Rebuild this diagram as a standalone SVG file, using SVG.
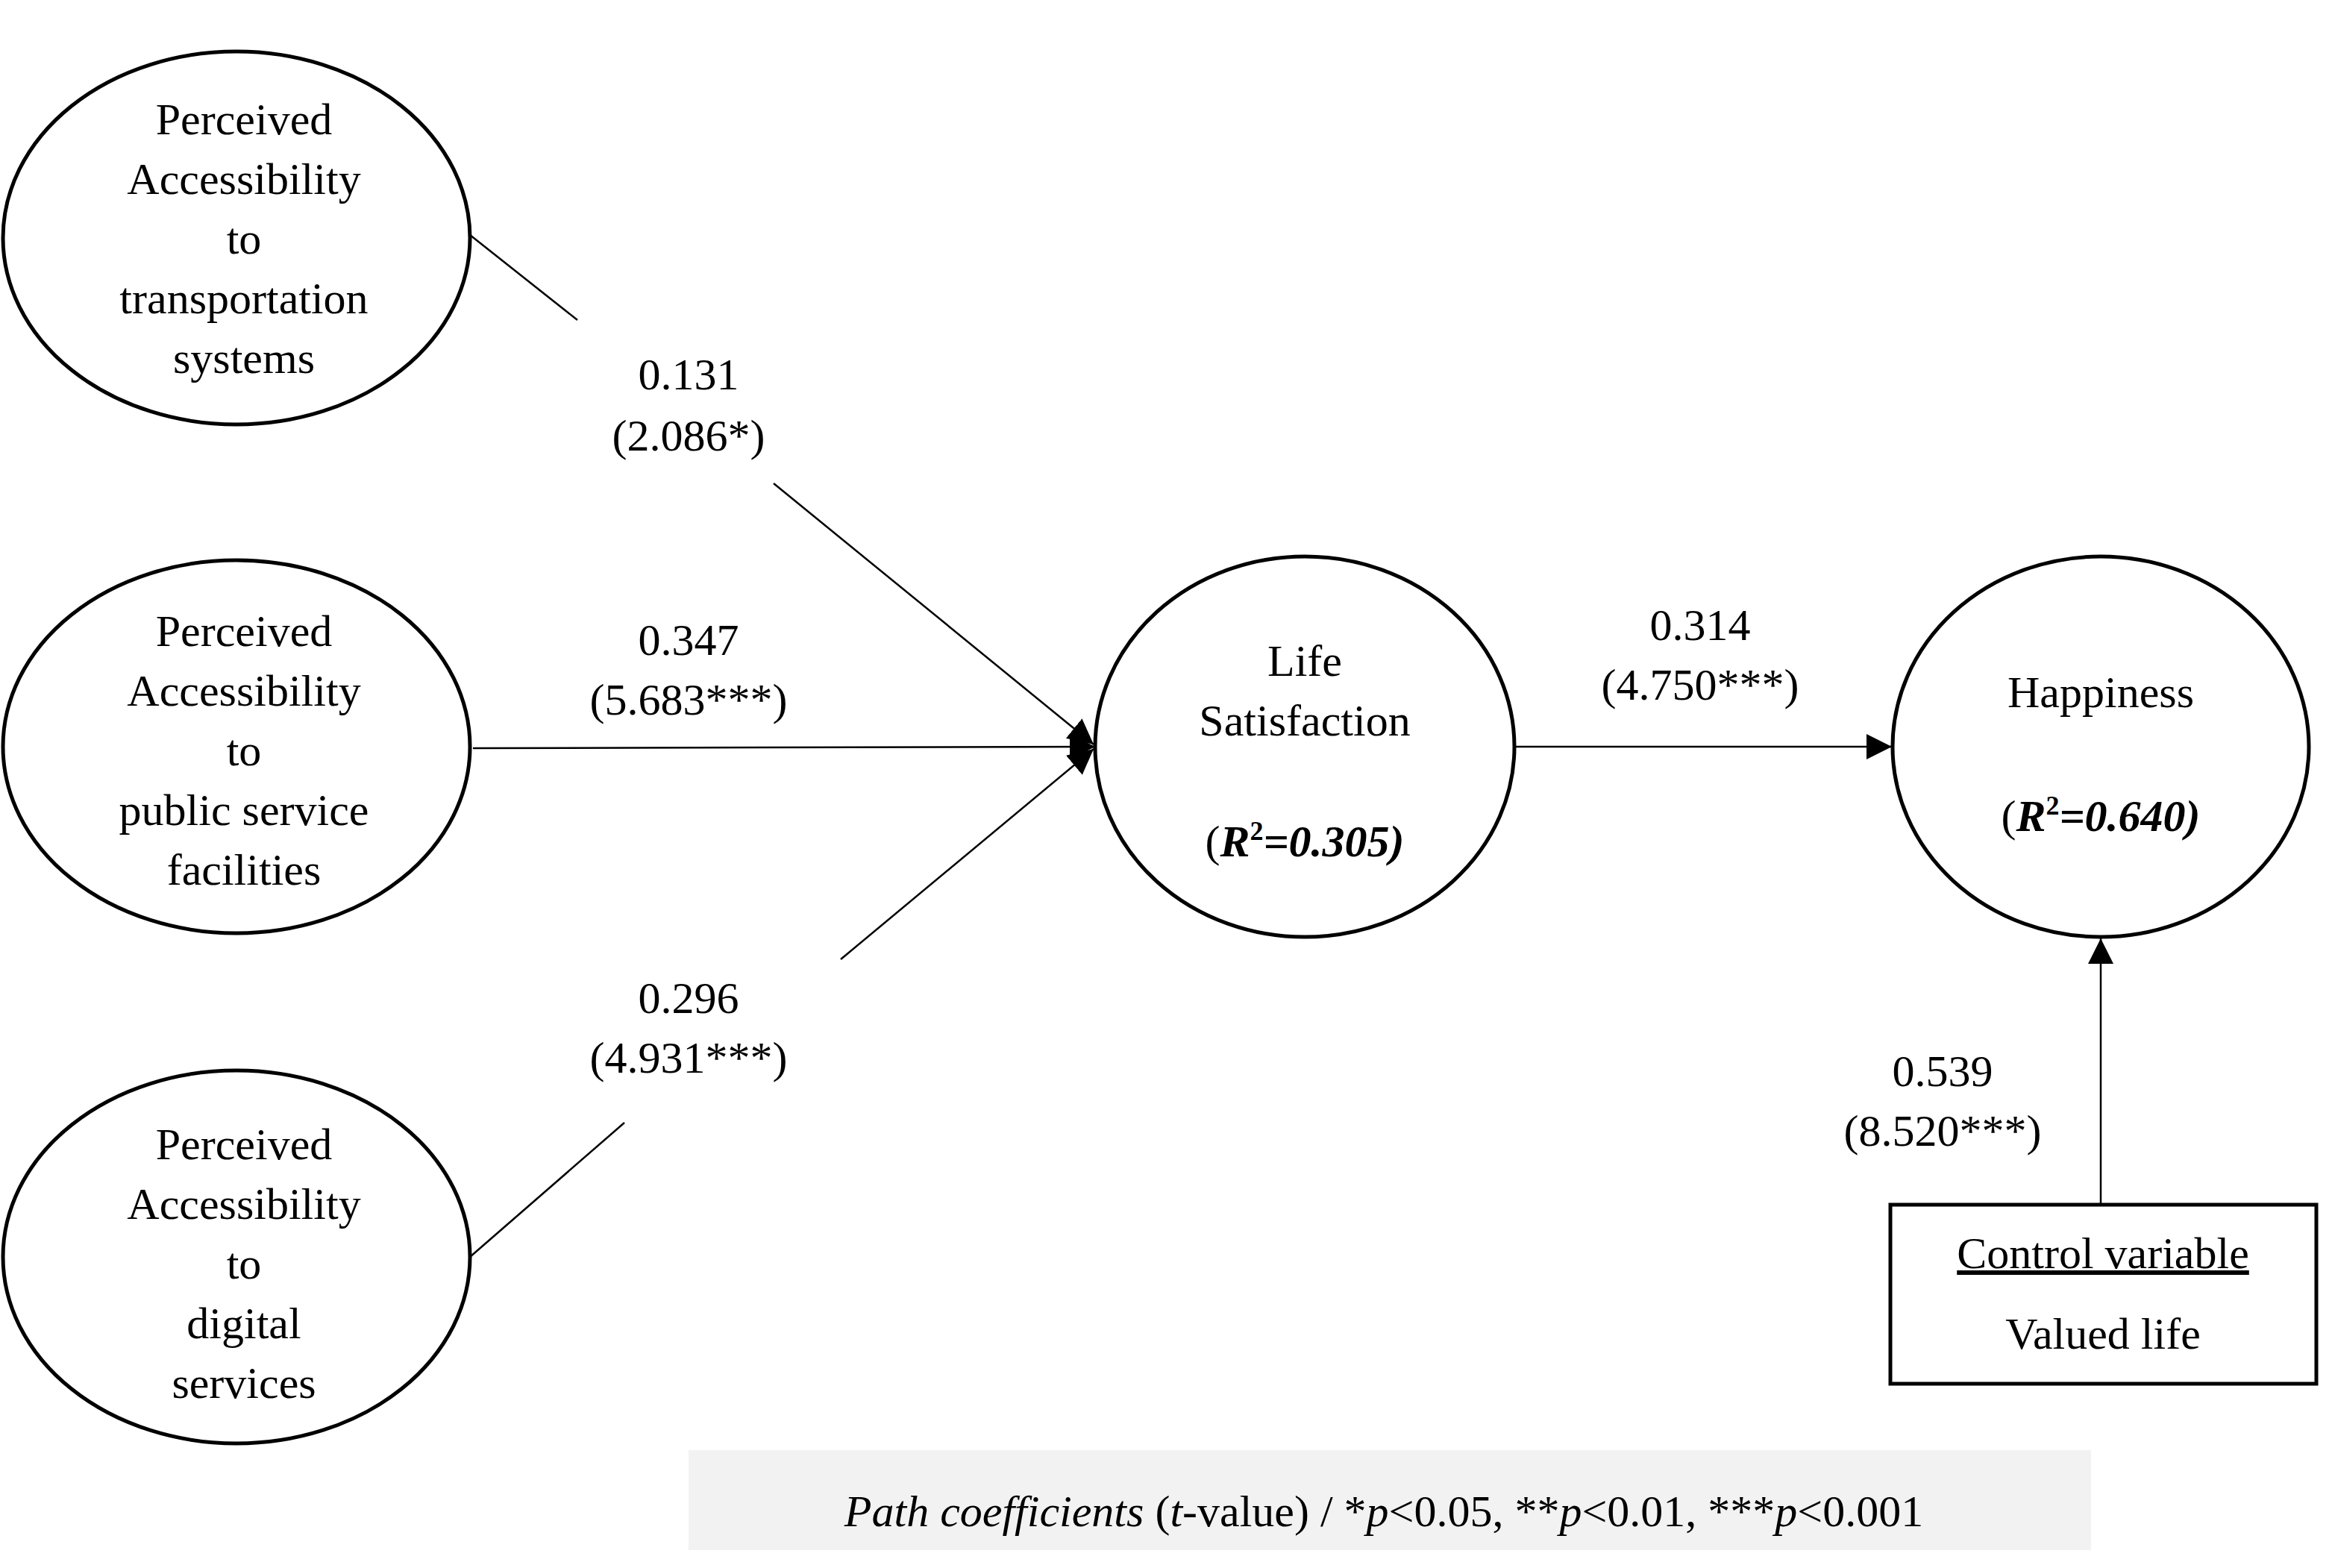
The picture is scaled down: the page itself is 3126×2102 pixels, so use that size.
<svg xmlns="http://www.w3.org/2000/svg" width="3126" height="2102" viewBox="0 0 3126 2102">
<style>
text{font-family:"Liberation Serif","Times New Roman",serif;font-size:60px;fill:#000;text-anchor:middle}
.n{fill:#fff;stroke:#000;stroke-width:5}
.c{stroke:#000;stroke-width:2.5;fill:none}
</style>
<defs><marker id="ah" viewBox="0 0 10 10" refX="10" refY="5" markerWidth="12" markerHeight="12" markerUnits="userSpaceOnUse" orient="auto"><path d="M0,0L10,5L0,10z"/></marker>
<marker id="a" viewBox="0 0 10 10" refX="10" refY="5" markerWidth="34" markerHeight="34" markerUnits="userSpaceOnUse" orient="auto"><path d="M0,0L10,5L0,10z"/></marker></defs>
<rect x="923" y="1944" width="1880" height="134" fill="#f2f2f2"/>
<text x="1855" y="2046"><tspan font-style="italic">Path coefficients</tspan> (<tspan font-style="italic">t</tspan>-value) / *<tspan font-style="italic">p</tspan>&lt;0.05, **<tspan font-style="italic">p</tspan>&lt;0.01, ***<tspan font-style="italic">p</tspan>&lt;0.001</text>
<g id="connectors">
<line class="c" x1="630" y1="315" x2="774" y2="429"/>
<line class="c" x1="1037" y1="648" x2="1466" y2="998" marker-end="url(#a)"/>
<line class="c" x1="634" y1="1003" x2="1468" y2="1001" marker-end="url(#a)"/>
<line class="c" x1="630" y1="1685" x2="837" y2="1505"/>
<line class="c" x1="1127" y1="1286" x2="1466" y2="1004" marker-end="url(#a)"/>
<line class="c" x1="2030" y1="1001" x2="2536" y2="1001" marker-end="url(#a)"/>
<line class="c" x1="2816" y1="1613" x2="2816" y2="1258" marker-end="url(#a)"/>
<text x="923" y="522">0.131</text><text x="923" y="604">(2.086*)</text>
<text x="923" y="878">0.347</text><text x="923" y="958">(5.683***)</text>
<text x="923" y="1358">0.296</text><text x="923" y="1438">(4.931***)</text>
<text x="2279" y="858">0.314</text><text x="2279" y="938">(4.750***)</text>
<text x="2604" y="1456">0.539</text><text x="2604" y="1536">(8.520***)</text>
</g>
<g id="n1"><ellipse class="n" cx="317" cy="319" rx="313" ry="250"/>
<text x="327" y="180">Perceived</text><text x="327" y="260">Accessibility</text><text x="327" y="340">to</text><text x="327" y="420">transportation</text><text x="327" y="500">systems</text></g>
<g id="n2"><ellipse class="n" cx="317" cy="1001" rx="313" ry="250"/>
<text x="327" y="866">Perceived</text><text x="327" y="946">Accessibility</text><text x="327" y="1026">to</text><text x="327" y="1106">public service</text><text x="327" y="1186">facilities</text></g>
<g id="n3"><ellipse class="n" cx="317" cy="1685" rx="313" ry="250"/>
<text x="327" y="1554">Perceived</text><text x="327" y="1634">Accessibility</text><text x="327" y="1714">to</text><text x="327" y="1794">digital</text><text x="327" y="1874">services</text></g>
<g id="life"><ellipse class="n" cx="1749" cy="1001" rx="281" ry="255"/>
<text x="1749" y="906">Life</text><text x="1749" y="986">Satisfaction</text>
<text x="1749" y="1148">(<tspan font-weight="bold" font-style="italic">R</tspan><tspan font-weight="bold" font-size="36" dy="-22">2</tspan><tspan font-weight="bold" font-style="italic" dy="22">=0.305)</tspan></text></g>
<g id="happy"><ellipse class="n" cx="2816" cy="1001" rx="279" ry="255"/>
<text x="2816" y="948">Happiness</text>
<text x="2816" y="1114">(<tspan font-weight="bold" font-style="italic">R</tspan><tspan font-weight="bold" font-size="36" dy="-22">2</tspan><tspan font-weight="bold" font-style="italic" dy="22">=0.640)</tspan></text></g>
<g id="control"><rect x="2534" y="1615" width="571" height="240" fill="#fff" stroke="#000" stroke-width="5"/>
<text x="2819" y="1700" text-decoration="underline">Control variable</text><text x="2819" y="1808">Valued life</text></g>
</svg>
